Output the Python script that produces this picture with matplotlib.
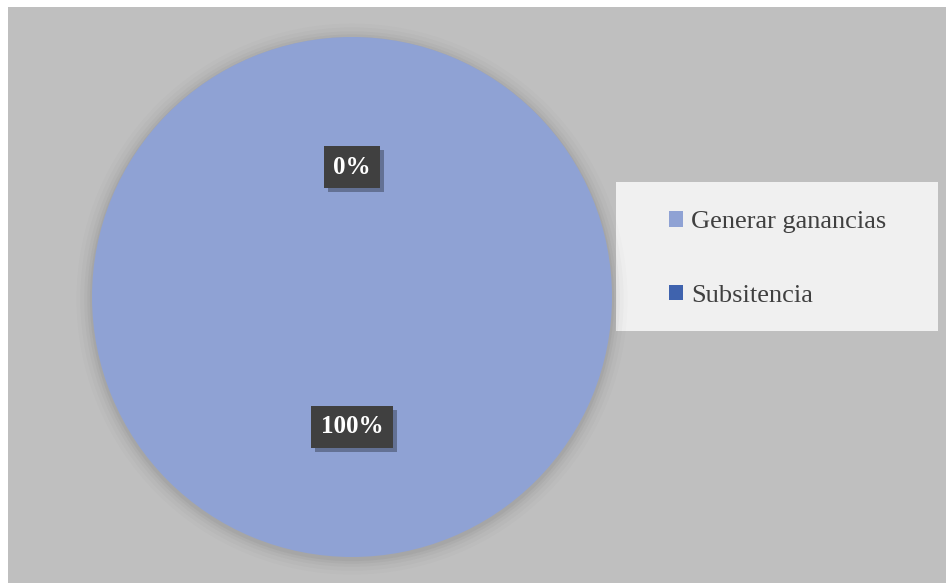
import matplotlib
matplotlib.use("Agg")
import matplotlib.pyplot as plt
from matplotlib.patches import Rectangle, Circle
from matplotlib import patheffects

plt.rcParams["font.family"] = ["Liberation Serif", "DejaVu Serif"]

labels = ["Generar ganancias", "Subsitencia"]
values = [100, 0]
colors = ["#8FA2D4", "#3F63AE"]

W, H = 946, 583
fig = plt.figure(figsize=(W / 100, H / 100), dpi=100)
fig.patch.set_facecolor("white")

# grey plot area
fig.patches.append(Rectangle((8 / W, 0), 1, (H - 7) / H, transform=fig.transFigure,
                             facecolor="#BFBFBF", edgecolor="none", zorder=0))

# pie axes: centre (352, 297), radius 260 px
cx, cy, r = 352, 297, 260
ax = fig.add_axes([(cx - r) / W, (H - cy - r) / H, 2 * r / W, 2 * r / H])
ax.set_zorder(3)
ax.patch.set_visible(False)
ax.set_axis_off()

# soft shadow round the pie
for k, a in [(1.06, 0.012), (1.045, 0.018), (1.03, 0.025), (1.018, 0.03), (1.008, 0.035)]:
    ax.add_patch(Circle((0, -0.008), k, facecolor="black", edgecolor="none",
                        alpha=a, zorder=0, clip_on=False))

wedges, texts, autotexts = ax.pie(
    values, colors=colors, startangle=90, counterclock=False,
    autopct="%1.0f%%", pctdistance=0.5, radius=1,
    wedgeprops=dict(linewidth=0, zorder=1),
    textprops=dict(color="white", fontsize=18, fontweight="bold"),
)
for t in autotexts:
    t.set_bbox(dict(boxstyle="square,pad=0.38", facecolor="#404040", edgecolor="none"))
    t.get_bbox_patch().set_path_effects(
        [patheffects.withSimplePatchShadow(offset=(3, -3), shadow_rgbFace="black", alpha=0.3)])
ax.set_xlim(-1, 1)
ax.set_ylim(-1, 1)

# legend box
fig.patches.append(Rectangle((616 / W, (H - 331) / H), (938 - 616) / W, (331 - 182) / H,
                             transform=fig.transFigure, facecolor="#F0F0F0",
                             edgecolor="none", zorder=1))
leg = fig.legend(wedges, labels, loc="center left",
                 bbox_to_anchor=(669 / W, (H - 259) / H), bbox_transform=fig.transFigure,
                 frameon=False, fontsize=19, labelcolor="#404040",
                 handlelength=0.53, handleheight=0.53, handletextpad=0.3,
                 labelspacing=1.95, borderpad=0, borderaxespad=0)
leg.set_zorder(4)

fig.savefig("out.png", dpi=100)
